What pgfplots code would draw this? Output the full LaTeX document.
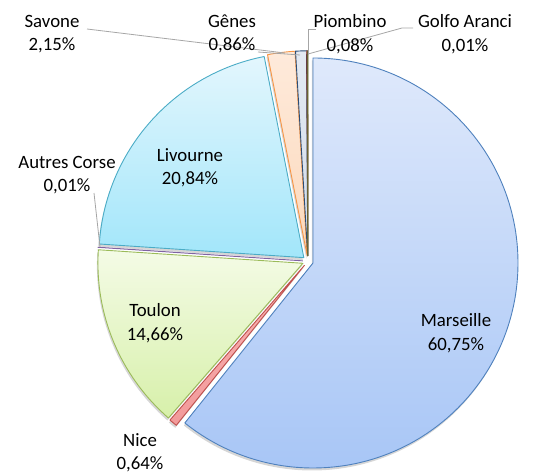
\documentclass[border=0pt]{standalone}
\usepackage{pgfplots}
\pgfplotsset{compat=1.18}
\usepackage{pgfplotstable}
\usepackage{fontspec}
\setmainfont{Carlito}

\pgfplotstableread[col sep=comma]{
name,value
Marseille,60.75
Nice,0.64
Toulon,14.66
Autres Corse,0.01
Livourne,20.84
Savone,2.15
Gênes,0.86
Piombino,0.08
Golfo Aranci,0.01
}\piedata

% slice colours (Excel 2007 palette)
\definecolor{b0}{HTML}{4F81BD}\definecolor{t0}{HTML}{DFE9FB}\definecolor{u0}{HTML}{A8C6F6}
\definecolor{b1}{HTML}{C0504D}\definecolor{t1}{HTML}{F9B4B4}\definecolor{u1}{HTML}{F29A9A}
\definecolor{b2}{HTML}{9BBB59}\definecolor{t2}{HTML}{F4FBE6}\definecolor{u2}{HTML}{D7F0AA}
\definecolor{b3}{HTML}{8064A2}\definecolor{t3}{HTML}{D9CDE8}\definecolor{u3}{HTML}{C0AED8}
\definecolor{b4}{HTML}{4BACC6}\definecolor{t4}{HTML}{E3F6FD}\definecolor{u4}{HTML}{A2E6FA}
\definecolor{b5}{HTML}{F79646}\definecolor{t5}{HTML}{FEEADB}\definecolor{u5}{HTML}{FCD9BC}
\definecolor{b6}{HTML}{2C4D75}\definecolor{t6}{HTML}{E3E9F2}\definecolor{u6}{HTML}{D2DCEA}
\definecolor{b7}{HTML}{772C2A}\definecolor{t7}{HTML}{E6B9B8}\definecolor{u7}{HTML}{D99694}
\definecolor{b8}{HTML}{5F7530}\definecolor{t8}{HTML}{D7E4BD}\definecolor{u8}{HTML}{C3D69B}
\definecolor{lead}{HTML}{A6A6A6}

% pie geometry, in pixels of the reference
\def\cx{307.9}\def\cy{213.8}\def\rr{205}\def\ex{5.4}

% start / end angle and exploded apex of each slice, from the table
\def\cum{0}
\pgfplotstablegetrowsof{\piedata}
\pgfmathtruncatemacro\nlast{\pgfplotsretval-1}
\pgfplotsforeachungrouped \i in {0,...,\nlast}{%
  \pgfplotstablegetelem{\i}{value}\of\piedata
  \pgfmathsetmacro\aa{90-3.6*\cum}%
  \pgfmathsetmacro\cum{\cum+\pgfplotsretval}%
  \pgfmathsetmacro\bb{90-3.6*\cum}%
  \pgfmathsetmacro\px{\cx+\ex*cos((\aa+\bb)/2)}%
  \pgfmathsetmacro\py{\cy+\ex*sin((\aa+\bb)/2)}%
  \expandafter\xdef\csname sa\i\endcsname{\aa}%
  \expandafter\xdef\csname sb\i\endcsname{\bb}%
  \expandafter\xdef\csname px\i\endcsname{\px}%
  \expandafter\xdef\csname py\i\endcsname{\py}%
}

\newcommand\lbl{\fontsize{18.8}{23.5}\selectfont}

\begin{document}
\begin{tikzpicture}
\begin{axis}[
    x=1pt, y=1pt,
    xmin=0, xmax=533, ymin=0, ymax=475,
    hide axis, clip=false,
]
  % keep the whole canvas in the bounding box
  \path (axis cs:0,0) rectangle (axis cs:533,475);

  % soft shadows first
  \pgfplotsinvokeforeach{0,...,8}{
    \fill[black, opacity=0.16]
      ([shift={(-1pt,-2.5pt)}]axis cs:\csname px#1\endcsname,\csname py#1\endcsname)
      -- ++(\csname sa#1\endcsname:\rr pt)
      arc[start angle=\csname sa#1\endcsname, end angle=\csname sb#1\endcsname, radius=\rr pt]
      -- cycle;
  }
  % slices
  \pgfplotsinvokeforeach{0,...,8}{
    \path[draw=b#1, line width=0.9pt, line join=round, top color=t#1, bottom color=u#1]
      (axis cs:\csname px#1\endcsname,\csname py#1\endcsname)
      -- ++(\csname sa#1\endcsname:\rr pt)
      arc[start angle=\csname sa#1\endcsname, end angle=\csname sb#1\endcsname, radius=\rr pt]
      -- cycle;
  }

  % leader lines
  \draw[lead, line width=0.8pt] (axis cs:87,446) -- (axis cs:285,422);
  \draw[lead, line width=0.8pt] (axis cs:258,423) -- (axis cs:300,420);
  \draw[lead, line width=0.8pt] (axis cs:316,446) -- (axis cs:308,446) -- (axis cs:308,420);
  \draw[lead, line width=0.8pt] (axis cs:413,447) -- (axis cs:402,447) -- (axis cs:308,421);
  \draw[lead, line width=0.8pt] (axis cs:94,282) -- (axis cs:100,228);

  % data labels
  \begin{scope}[every node/.style={align=center, font=\lbl, inner sep=0pt}]
    \node at (axis cs:456,142) {Marseille\\60,75\%};
    \node at (axis cs:140,22.5) {Nice\\0,64\%};
    \node at (axis cs:155,152) {Toulon\\14,66\%};
    \node at (axis cs:67,300) {Autres Corse\\0,01\%};
    \node at (axis cs:190,307.5) {Livourne\\20,84\%};
    \node at (axis cs:52,441) {Savone\\2,15\%};
    \node at (axis cs:232,441) {Gênes\\0,86\%};
    \node at (axis cs:350,441) {Piombino\\0,08\%};
    \node at (axis cs:465,441) {Golfo Aranci\\0,01\%};
  \end{scope}
\end{axis}
\end{tikzpicture}
\end{document}
